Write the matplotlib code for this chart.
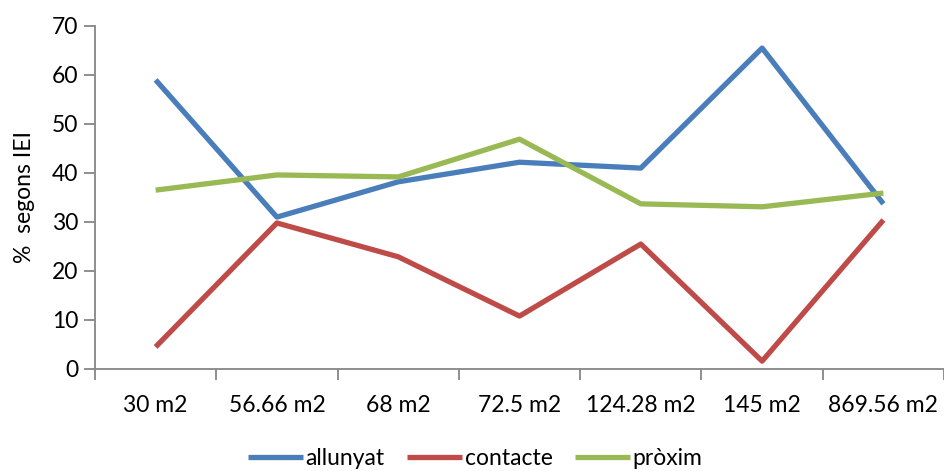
import matplotlib.pyplot as plt
import numpy as np

# superfícies i percentatges per categoria
superficies = ["30 m2", "56.66 m2", "68 m2", "72.5 m2", "124.28 m2", "145 m2", "869.56 m2"]
allunyat = [59.0, 31.0, 38.2, 42.2, 41.0, 65.5, 33.7]
contacte = [4.5, 29.8, 22.9, 10.8, 25.5, 1.6, 30.4]
proxim = [36.5, 39.6, 39.2, 46.9, 33.7, 33.1, 35.9]

plt.rcParams['font.family'] = ['Lato', 'DejaVu Sans']
fs = 16.5

fig = plt.figure(figsize=(9.45, 4.71), dpi=100)
ax = fig.add_axes([0.1005, 0.2166, 0.8985, 0.7282])

x = np.arange(len(superficies))
lw = 3.8
ax.plot(x, allunyat, color='#4a7ebb', lw=lw, label='allunyat', solid_capstyle='butt')
ax.plot(x, contacte, color='#be4b48', lw=lw, label='contacte', solid_capstyle='butt')
ax.plot(x, proxim, color='#98b954', lw=lw, label='pròxim', solid_capstyle='butt')

ax.set_xlim(-0.5, len(superficies) - 0.5)
ax.set_ylim(0, 70)
ax.set_yticks(range(0, 71, 10))
ax.set_xticks(x)
ax.set_xticklabels(superficies)
# marques de l'eix x entre categories
ax.set_xticks(np.arange(-0.5, len(superficies), 1), minor=True)
ax.tick_params(axis='x', which='major', length=0, pad=19, labelsize=fs)
ax.tick_params(axis='x', which='minor', length=8, width=1.3, color='#868686', direction='out')
ax.tick_params(axis='y', length=8, width=1.3, color='#868686', labelsize=fs, pad=4)

for s in ['top', 'right']:
    ax.spines[s].set_visible(False)
for s in ['left', 'bottom']:
    ax.spines[s].set_color('#868686')
    ax.spines[s].set_linewidth(1.3)

ax.set_ylabel('%  segons IEI', fontsize=fs, labelpad=12)

leg = fig.legend(loc='lower center', bbox_to_anchor=(0.503, -0.04), ncol=3, frameon=False,
                 fontsize=fs, handlelength=2.4, handletextpad=0.1, columnspacing=1.0)

fig.savefig('out.png', dpi=100)
